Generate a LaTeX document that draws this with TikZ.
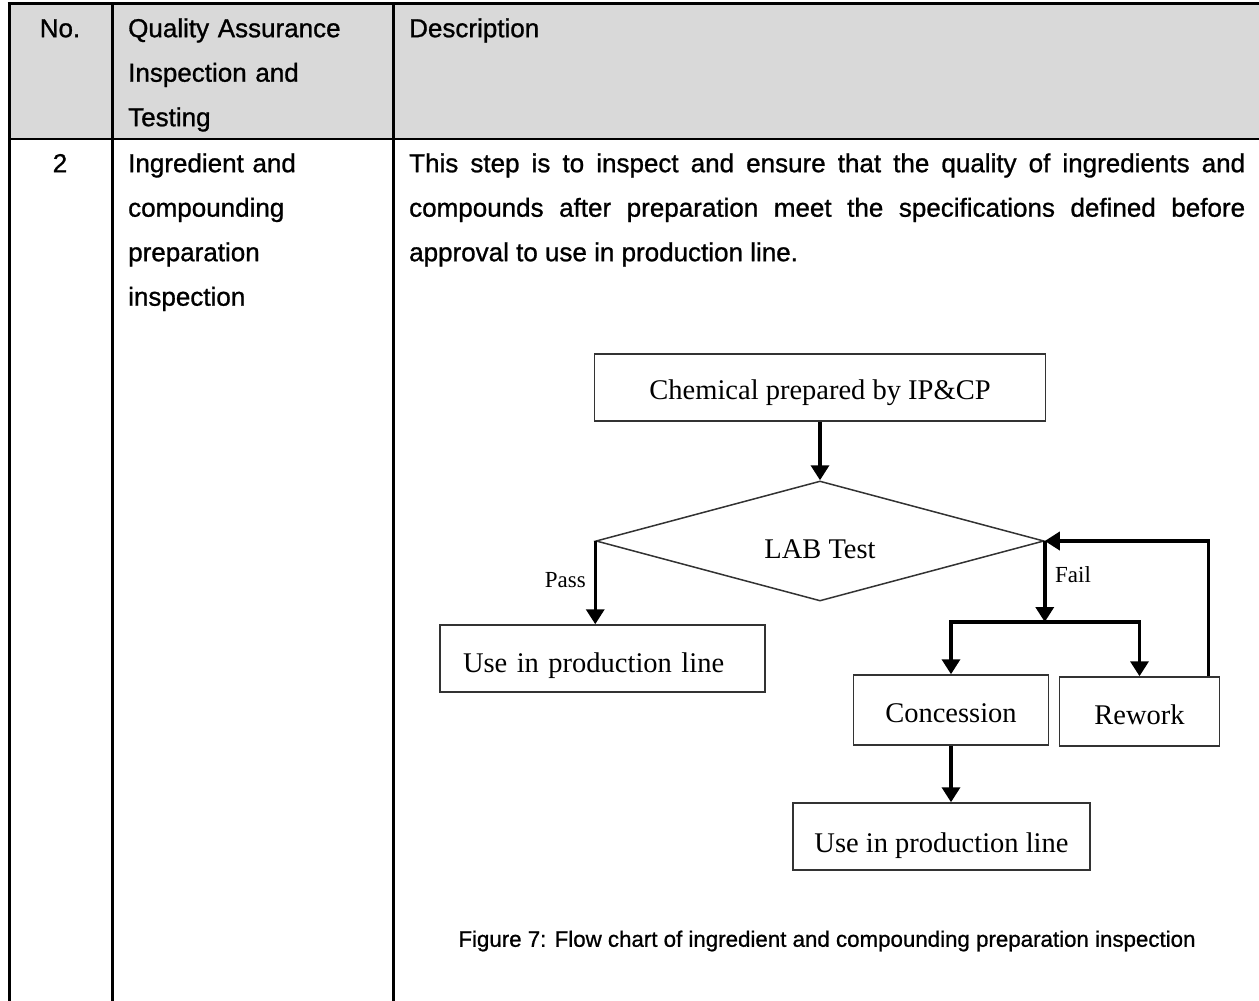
\documentclass[tikz,border=0pt]{standalone}
\usepackage{fontspec}
\setmainfont{Liberation Serif}
\newfontfamily\tablefont[FakeBold=1.0]{Liberation Sans}
\newfontfamily\capfont[FakeBold=0.9]{Liberation Sans}
\usetikzlibrary{shapes.geometric,arrows.meta}
\definecolor{headgray}{HTML}{D9D9D9}
\definecolor{boxline}{HTML}{333333}
% move a label down inside its box without changing the box size
\newcommand{\lowered}[2]{\raisebox{-#1}[\height][\depth]{#2}}

\begin{document}
\begin{tikzpicture}[x=1pt,y=-1pt,
  rule/.style={line width=3pt},
  cell/.style={anchor=north west,inner sep=0pt,align=left,
    font=\tablefont\fontsize{26}{44.5}\selectfont},
  stepbox/.style={draw=boxline,line width=1.5pt,inner sep=0pt,
    font=\fontsize{28.5}{34}\selectfont},
  flow/.style={line width=3.5pt,-{Triangle[width=18pt,length=15pt]}},
  lbl/.style={font=\fontsize{23}{28}\selectfont,inner sep=0pt}
]
\useasboundingbox (0,0) rectangle (1259,1001);

% table frame
\fill[headgray] (9,3) rectangle (1259,139);
\draw[line width=3pt] (7.5,3) -- (1259,3);
\draw[line width=2pt] (9,139) -- (1259,139);
\draw[rule] (9,3) -- (9,1001);
\draw[rule] (112,3) -- (112,1001);
\draw[rule] (393,3) -- (393,1001);

% header row
\node[cell,anchor=north] (hno) at (60,5.85) {\strut No.};
\node[cell,text width=250pt] (hqa) at (128,5.85)
  {\strut Quality Assurance\\Inspection and\\Testing};
\node[cell] (hdesc) at (409,5.85) {\strut Description};

% body row
\node[cell,anchor=north] (rno) at (60,140.85) {\strut 2};
\node[cell,text width=250pt] (rqa) at (128,140.85)
  {\strut Ingredient and\\compounding\\preparation\\inspection};
\node[cell,text width=836pt,align=justify] (rdesc) at (409,140.85)
  {\strut This step is to inspect and ensure that the quality of ingredients and\linebreak
   compounds after preparation meet the specifications defined before\linebreak
   approval to use in production line.};

% flow chart
\node[stepbox,minimum width=451pt,minimum height=67pt] (chem) at (820,387.5)
  {\lowered{5pt}{Chemical prepared by IP\&CP}};
\node[draw=boxline,line width=1.5pt,diamond,aspect=3.73,minimum width=448pt,
  minimum height=120pt,inner sep=0pt,font=\fontsize{28.5}{34}\selectfont]
  (lab) at (820,541) {\lowered{8pt}{LAB Test}};
\node[stepbox,minimum height=67pt,text width=279pt,inner xsep=23pt,align=left]
  (use1) at (602.5,658.5) {\lowered{7pt}{Use in production line}};
\node[stepbox,minimum width=195pt,minimum height=70pt] (conc) at (951,710)
  {\lowered{3pt}{Concession}};
\node[stepbox,minimum width=160pt,minimum height=69pt] (rework) at (1139.5,711.5)
  {\lowered{3pt}{Rework}};
\node[stepbox,minimum width=297pt,minimum height=67pt] (use2) at (941.5,836.5)
  {\lowered{9pt}{Use in production line}};

% branching point below the Fail exit
\coordinate (split) at (lab.east |- 0,622);

\draw[flow] (chem.south) -- (lab.north);
\draw[flow] (lab.west) -- (lab.west |- use1.north);
\node[lbl,anchor=east] (pass) at (586,580) {Pass};
\draw[flow] (lab.east) -- (split);
\node[lbl,anchor=west] (fail) at (1055,575) {Fail};
\draw[flow] (split) -| (conc.north);
\draw[flow] (split) -| (rework.north);
\draw[flow] (rework.north east) ++(-12,0) |- (lab.east);
\draw[flow] (conc.south) -- (conc.south |- use2.north);

% caption
\node[font=\capfont\fontsize{22.3}{28}\selectfont,inner sep=0pt] (cap) at (827,941)
  {Figure 7: Flow chart of ingredient and compounding preparation inspection};
\end{tikzpicture}
\end{document}
